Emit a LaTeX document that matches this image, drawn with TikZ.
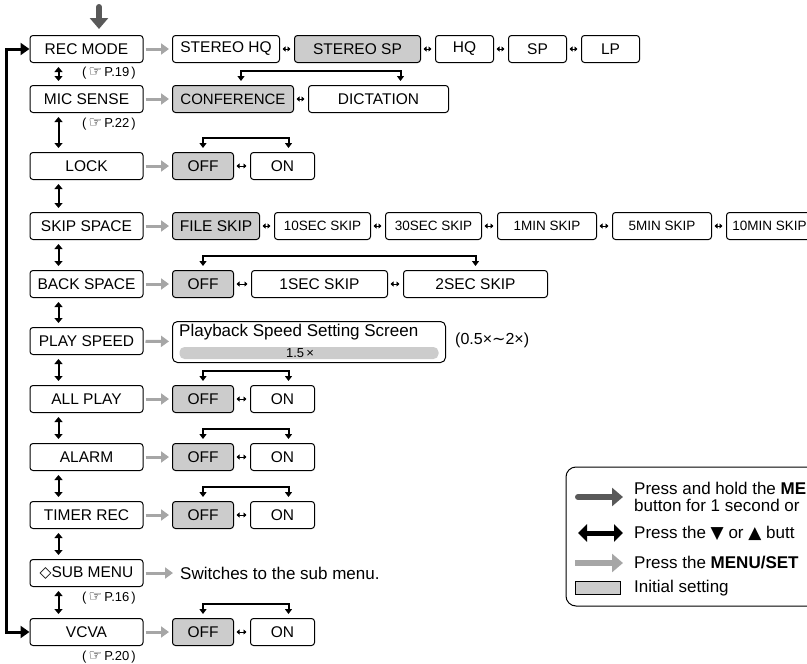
\documentclass[tikz,border=0pt]{standalone}
\usepackage{fontspec}
\setmainfont{Liberation Sans}
\newfontfamily\dejavu{DejaVu Sans}
\usepackage{tikz}
\usetikzlibrary{positioning, arrows.meta, calc}

\definecolor{boxgray}{gray}{0.8}
\definecolor{lightarr}{gray}{0.65}
\definecolor{darkarr}{gray}{0.35}

\tikzset{
  menu/.style={draw, rounded corners=3pt, line width=1pt, minimum width=113pt, minimum height=27pt, inner sep=0pt, font=\fontsize{15.5}{18}\selectfont},
  opt/.style={menu, minimum width=61pt},
  init/.style={fill=boxgray},
  skipbox/.style={opt, minimum width=96pt, font=\fontsize{13.5}{16}\selectfont},
  press/.style={lightarr, line width=3pt, -{Triangle[length=8pt,width=11pt]}, shorten <=2pt, shorten >=3pt},
  toggle/.style={line width=1pt, {Triangle[length=3pt,width=5pt]}-{Triangle[length=3pt,width=5pt]}, shorten <=2.5pt, shorten >=3.5pt},
  updown/.style={line width=2pt, {Triangle[length=5pt,width=8pt]}-{Triangle[length=5pt,width=8pt]}, shorten <=4pt, shorten >=4pt},
  wrap/.style={line width=2pt, {Triangle[length=5pt,width=7pt]}-{Triangle[length=5pt,width=7pt]}, shorten <=4pt, shorten >=4pt},
  backline/.style={line width=3pt, {Triangle[length=9pt,width=12pt]}-{Triangle[length=9pt,width=12pt]}},
  hold/.style={darkarr, line width=6pt, line cap=round, -{Triangle[length=11pt,width=18pt]}},
  both/.style={line width=5pt, {Triangle[length=9pt,width=17pt]}-{Triangle[length=9pt,width=17pt]}},
  setarr/.style={lightarr, line width=6pt, -{Triangle[length=11pt,width=18pt]}},
  ref/.style={font=\fontsize{13}{15}\selectfont, inner sep=0pt},
  legtext/.style={anchor=west, align=left, inner sep=0pt, font=\fontsize{17}{17}\selectfont},
}

\begin{document}
\begin{tikzpicture}[x=1pt, y=-1pt]
  \useasboundingbox (0,0) rectangle (807,664);
  \clip (0,0) rectangle (807,664);

  % menu items
  \node[menu] (rec) at (86.5,49) {REC MODE};
  \node[menu] (mic) at (86.5,99) {MIC SENSE};
  \node[menu] (lock) at (86.5,166) {LOCK};
  \node[menu] (skip) at (86.5,226) {SKIP SPACE};
  \node[menu] (back) at (86.5,284) {BACK SPACE};
  \node[menu] (play) at (86.5,341) {PLAY SPEED};
  \node[menu] (all) at (86.5,399) {ALL PLAY};
  \node[menu] (alarm) at (86.5,457) {ALARM};
  \node[menu] (timer) at (86.5,515) {TIMER REC};
  \node[menu] (sub) at (86.5,573) {{\dejavu ◇}SUB MENU};
  \node[menu] (vcva) at (86.5,632) {VCVA};

  \node[ref] (ref19) at (109,73) {(\,{\dejavu\fontsize{15}{15}\selectfont ☞}\,P.19\,)};
  \node[ref] (ref22) at (109,124) {(\,{\dejavu\fontsize{15}{15}\selectfont ☞}\,P.22\,)};
  \node[ref] (ref16) at (109,598) {(\,{\dejavu\fontsize{15}{15}\selectfont ☞}\,P.16\,)};
  \node[ref] (ref20) at (109,657) {(\,{\dejavu\fontsize{15}{15}\selectfont ☞}\,P.20\,)};

  \coordinate (top) at (99,7);
  \draw[hold] (top) -- ([yshift=6pt]top |- rec.north);
  \draw[backline] (vcva.west) -- ++(-23,0) |- (rec.west);

  % settings
  \node[opt, minimum width=107pt, anchor=west] (shq) at (172,49) {STEREO HQ};
  \node[opt, init, minimum width=126pt, right=14pt of shq] (ssp) {STEREO SP};
  \node[opt, minimum width=58pt, right=14pt of ssp] (hq) {HQ};
  \node[opt, minimum width=58pt, right=14pt of hq] (sp) {SP};
  \node[opt, minimum width=58pt, right=14pt of sp] (lp) {LP};

  \node[opt, init, minimum width=121pt, font=\fontsize{15}{18}\selectfont, anchor=west] (conf) at (172,99) {CONFERENCE};
  \node[opt, minimum width=140pt, right=14pt of conf] (dict) {DICTATION};

  \node[opt, init, anchor=west] (lockoff) at (172,166) {OFF};
  \node[opt, minimum width=64pt, right=16pt of lockoff] (lockon) {ON};

  \node[opt, init, minimum width=87pt, anchor=west] (file) at (172,226) {FILE SKIP};
  \node[skipbox, right=14pt of file] (sec10) {10SEC SKIP};
  \node[skipbox, right=14pt of sec10] (sec30) {30SEC SKIP};
  \node[skipbox, minimum width=99pt, right=15pt of sec30] (min1) {1MIN SKIP};
  \node[skipbox, minimum width=99pt, right=15pt of min1] (min5) {5MIN SKIP};
  \node[skipbox, minimum width=86pt, right=14pt of min5] (min10) {10MIN SKIP};

  \node[opt, init, anchor=west] (backoff) at (172,284) {OFF};
  \node[opt, minimum width=136pt, right=17pt of backoff] (sec1) {1SEC SKIP};
  \node[opt, minimum width=144pt, right=15pt of sec1] (sec2) {2SEC SKIP};

  \node[draw, rounded corners=5pt, line width=1pt, minimum width=273pt, minimum height=41pt, anchor=west] (screen) at (172,342) {};
  \node[legtext] (screentxt) at ([xshift=7pt,yshift=-11pt]screen.north west) {Playback Speed Setting Screen};
  \node[fill=boxgray, rounded corners=5pt, minimum width=259pt, minimum height=12pt, inner sep=0pt] (bar) at ([yshift=-11pt]screen.center) {};
  \node[ref] (speed) at ([xshift=-9pt]bar.center) {1.5\,×};
  \node[legtext, font=\fontsize{16}{18}\selectfont] (range) at ([xshift=9pt,yshift=2pt]screen.east) {(0.5×{\dejavu ∼}2×)};

  \node[opt, init, anchor=west] (alloff) at (172,399) {OFF};
  \node[opt, minimum width=64pt, right=16pt of alloff] (allon) {ON};
  \node[opt, init, anchor=west] (alarmoff) at (172,457) {OFF};
  \node[opt, minimum width=64pt, right=16pt of alarmoff] (alarmon) {ON};
  \node[opt, init, anchor=west] (timeroff) at (172,515) {OFF};
  \node[opt, minimum width=64pt, right=16pt of timeroff] (timeron) {ON};
  \node[legtext] (subtxt) at (180,573) {Switches to the sub menu.};
  \node[opt, init, anchor=west] (vcvaoff) at (172,632) {OFF};
  \node[opt, minimum width=64pt, right=16pt of vcvaoff] (vcvaon) {ON};

  \draw
    ([xshift=-28pt]rec.south) edge[updown] ([xshift=-28pt]mic.north)
    ([xshift=-28pt]mic.south) edge[updown] ([xshift=-28pt]lock.north)
    ([xshift=-28pt]lock.south) edge[updown] ([xshift=-28pt]skip.north)
    ([xshift=-28pt]skip.south) edge[updown] ([xshift=-28pt]back.north)
    ([xshift=-28pt]back.south) edge[updown] ([xshift=-28pt]play.north)
    ([xshift=-28pt]play.south) edge[updown] ([xshift=-28pt]all.north)
    ([xshift=-28pt]all.south) edge[updown] ([xshift=-28pt]alarm.north)
    ([xshift=-28pt]alarm.south) edge[updown] ([xshift=-28pt]timer.north)
    ([xshift=-28pt]timer.south) edge[updown] ([xshift=-28pt]sub.north)
    ([xshift=-28pt]sub.south) edge[updown] ([xshift=-28pt]vcva.north)
    ;

  \draw
    (rec) edge[press] (shq)
    (mic) edge[press] (conf)
    (lock) edge[press] (lockoff)
    (skip) edge[press] (file)
    (back) edge[press] (backoff)
    (play) edge[press] (screen)
    (all) edge[press] (alloff)
    (alarm) edge[press] (alarmoff)
    (timer) edge[press] (timeroff)
    (sub) edge[press] ([xshift=-4pt]subtxt.west)
    (vcva) edge[press] (vcvaoff)
    ;

  \draw
    (shq) edge[toggle] (ssp) (ssp) edge[toggle] (hq)
    (hq) edge[toggle] (sp) (sp) edge[toggle] (lp)
    (conf) edge[toggle] (dict)
    (lockoff) edge[toggle] (lockon)
    (file) edge[toggle] (sec10) (sec10) edge[toggle] (sec30)
    (sec30) edge[toggle] (min1) (min1) edge[toggle] (min5)
    (min5) edge[toggle] (min10)
    (backoff) edge[toggle] (sec1) (sec1) edge[toggle] (sec2)
    (alloff) edge[toggle] (allon)
    (alarmoff) edge[toggle] (alarmon)
    (timeroff) edge[toggle] (timeron)
    (vcvaoff) edge[toggle] (vcvaon)
    ;

  % wrap-around from last to first setting
  \draw[wrap] ([xshift=8pt]conf.north) -- ++(0,-14) -| ([xshift=22pt]dict.north);
  \draw[wrap] (lockoff.north) -- ++(0,-14) -| ([xshift=6pt]lockon.north);
  \draw[wrap] (backoff.north) -- ++(0,-14) -| (sec2.north);
  \draw[wrap] (alloff.north) -- ++(0,-14) -| ([xshift=6pt]allon.north);
  \draw[wrap] (alarmoff.north) -- ++(0,-14) -| ([xshift=6pt]alarmon.north);
  \draw[wrap] (timeroff.north) -- ++(0,-14) -| ([xshift=6pt]timeron.north);
  \draw[wrap] (vcvaoff.north) -- ++(0,-14) -| ([xshift=6pt]vcvaon.north);

  % legend
  \draw[rounded corners=10pt, line width=1pt] (566,467) rectangle (840,606);
  \coordinate (h1) at (578,497);
  \coordinate (h2) at (623,497);
  \draw[hold] (h1) -- (h2);
  \node[legtext] (t1) at (634,497) {Press and hold the \textbf{ME}\\button for 1 second or};
  \coordinate (b1) at (578,533);
  \coordinate (b2) at (623,533);
  \draw[both] (b1) -- (b2);
  \node[legtext] (t2) at (634,533) {Press the {\dejavu ▼} or {\dejavu ▲} butt};
  \coordinate (s1) at (575,563);
  \coordinate (s2) at (623,563);
  \draw[setarr] (s1) -- (s2);
  \node[legtext] (t3) at (634,563) {Press the \textbf{MENU/SET}};
  \node[draw, fill=boxgray, line width=0.8pt, minimum width=45pt, minimum height=13pt, inner sep=0pt] (swatch) at (598,588) {};
  \node[legtext] (t4) at (634,588) {Initial setting};
\end{tikzpicture}
\end{document}
